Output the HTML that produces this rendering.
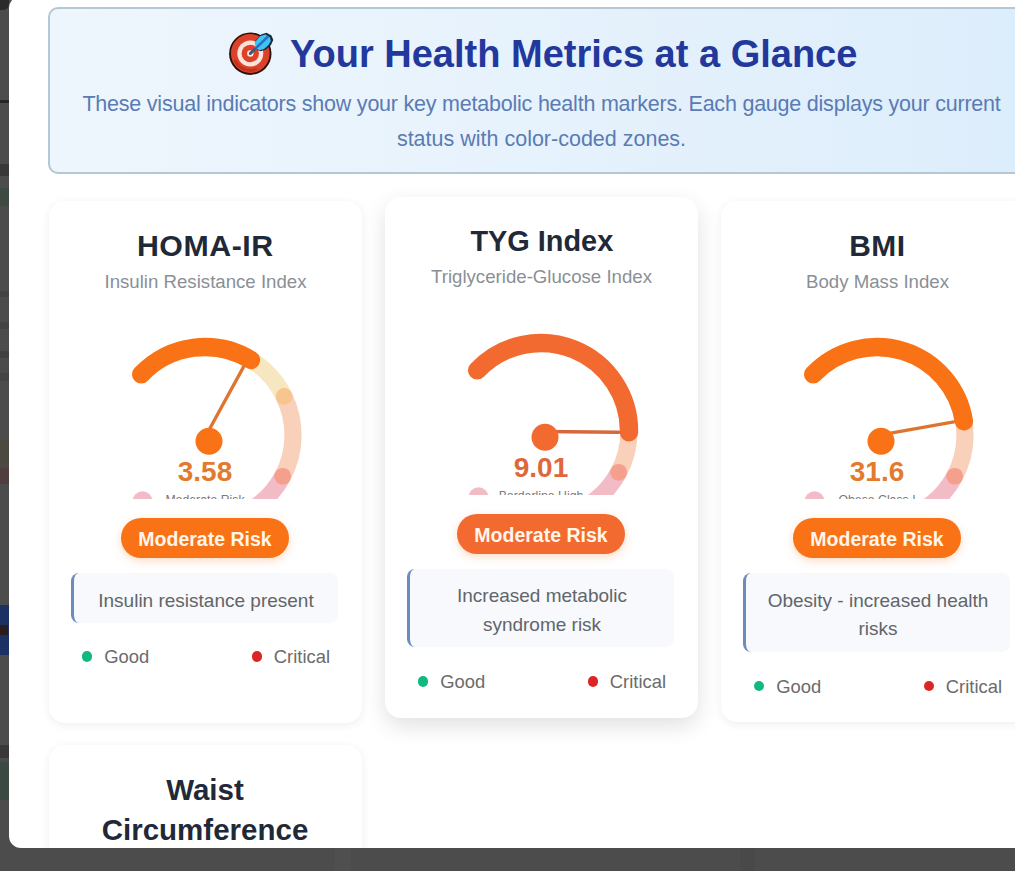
<!DOCTYPE html>
<html><head><meta charset="utf-8"><title>Health Metrics</title><style>
*{margin:0;padding:0;box-sizing:border-box}
html,body{width:1015px;height:871px;overflow:hidden}
body{background:#4c4c4c;font-family:"Liberation Sans",sans-serif;position:relative}
.modal{position:absolute;left:8.5px;top:-4px;width:1100px;height:852px;background:#fff;border-radius:12px}
.clip{position:absolute;left:0;top:0;width:1015px;height:848px;overflow:hidden}
.t{position:absolute;white-space:nowrap;line-height:1}
.hdr{position:absolute;left:47.5px;top:6.5px;width:988px;height:167px;border:2px solid #b3c8d4;border-radius:10px;background:linear-gradient(90deg,#eef6fd 0%,#e6f2fc 50%,#dcedfb 100%)}
.card{position:absolute;background:#fff;border-radius:16px;box-shadow:0 2px 10px rgba(0,0,0,0.07)}
.card.hov{box-shadow:0 8px 22px rgba(0,0,0,0.12)}
.g{position:absolute;overflow:hidden}
.badge{position:absolute;border-radius:20px;height:40px;width:168.5px;box-shadow:0 3px 8px rgba(249,115,22,0.25)}
.desc{position:absolute;background:#f7f9fc;border-left:3px solid #6d8cbe;border-radius:8px}
.dot{position:absolute;width:10.5px;height:10.5px;border-radius:50%}
.strip{position:absolute}
</style></head><body>

<div class="strip" style="left:0;top:605px;width:8.5px;height:50px;background:#1c3162"></div>
<div class="strip" style="left:0;top:0;width:9px;height:10px;background:#2a2a2a;border-radius:0 0 6px 0"></div>
<div class="strip" style="left:0;top:100px;width:8.5px;height:2.5px;background:#262626"></div>
<div class="strip" style="left:0;top:164px;width:8.5px;height:12px;background:#383838"></div>
<div class="strip" style="left:0;top:188px;width:8.5px;height:18px;background:#3c4a42"></div>
<div class="strip" style="left:0;top:291px;width:8.5px;height:6px;background:#434343"></div>
<div class="strip" style="left:0;top:322px;width:8.5px;height:7px;background:#434343"></div>
<div class="strip" style="left:0;top:351px;width:8.5px;height:7px;background:#414141"></div>
<div class="strip" style="left:0;top:373px;width:8.5px;height:8px;background:#444444"></div>
<div class="strip" style="left:0;top:440px;width:8.5px;height:28px;background:#4c4a40"></div>
<div class="strip" style="left:0;top:468px;width:8.5px;height:16px;background:#503e3e"></div>
<div class="strip" style="left:0;top:745px;width:8.5px;height:13px;background:#383838"></div>
<div class="strip" style="left:0;top:762px;width:8.5px;height:38px;background:#3c4842"></div>
<div class="strip" style="left:0;top:625px;width:8px;height:10px;background:#2a1c1c"></div>
<div class="strip" style="left:335px;top:848px;width:16px;height:23px;background:#4f4f4f"></div>
<div class="strip" style="left:740px;top:848px;width:15px;height:23px;background:#494949"></div>
<div class="modal"></div>
<div class="clip">
<div class="hdr"></div>
<div class="t" style="left:290.00px;top:34.63px;font-size:38px;font-weight:700;color:#22389c;">Your Health Metrics at a Glance</div>
<svg class="g" style="left:227px;top:30px" width="48" height="48" viewBox="0 0 48 48">
<circle cx="23.3" cy="23.7" r="21.2" fill="#2a100c"/>
<circle cx="23.3" cy="23.5" r="19.4" fill="#dc4229"/>
<path d="M8 30 A16.5 16.5 0 0 0 30 39" stroke="#c2341f" stroke-width="3" fill="none"/>
<circle cx="23.3" cy="23.5" r="13" fill="#fde3da"/>
<circle cx="23.3" cy="23.5" r="8.7" fill="#dc4229"/>
<circle cx="23.3" cy="23.5" r="3.2" fill="#fde3da"/>
<path d="M28.5 10.5 L34 4.5 L39.5 2.8 L44.5 5.5 L46.3 10 L44 15 L39 19.5 L33.5 21.3 L29.5 19.5 Z" fill="#1c2a3e"/>
<path d="M27.6 12.5 L33 6.2 L38.3 4.6 L42.8 7.3 L43.8 11 L41.5 15 L37 19 L32.5 20.3 L28.8 18.6 Z" fill="#3ec4f3"/>
<path d="M23.3 23.5 L40.5 7" stroke="#2a72c6" stroke-width="2.6" stroke-linecap="round"/>
<path d="M23.3 23.5 L27.5 19.4" stroke="#3a5878" stroke-width="2.6" stroke-linecap="round"/>
</svg>
<div class="t" style="left:-58.50px;top:93.50px;width:1200px;text-align:center;font-size:21.5px;font-weight:400;color:#5a7bb4;letter-spacing:-0.22px">These visual indicators show your key metabolic health markers. Each gauge displays your current</div>
<div class="t" style="left:-58.50px;top:128.70px;width:1200px;text-align:center;font-size:21.5px;font-weight:400;color:#5a7bb4;letter-spacing:0.0px">status with color-coded zones.</div>
<div class="card" style="left:48.5px;top:201px;width:313px;height:522px"></div>
<div class="card hov" style="left:384.5px;top:196.5px;width:313px;height:521.8px"></div>
<div class="card" style="left:720.5px;top:201px;width:313px;height:521px"></div>
<div class="t" style="left:-394.70px;top:230.65px;width:1200px;text-align:center;font-size:30.3px;font-weight:700;color:#1f2937;letter-spacing:0.55px">HOMA-IR</div>
<div class="t" style="left:-394.50px;top:272.81px;width:1200px;text-align:center;font-size:18.65px;font-weight:400;color:#8a8f96;">Insulin Resistance Index</div>
<svg class="g" style="left:75.0px;top:315.2px" width="260" height="184.30" viewBox="0 0 260 184.30"><path d="M160.10 37.31A88 88 0 0 1 209.09 81.42" stroke="#f7e7c1" stroke-width="17.2" fill="none" stroke-linecap="butt"/><path d="M209.09 81.42A88 88 0 0 1 207.70 161.31" stroke="#f9d0b9" stroke-width="17.2" fill="none" stroke-linecap="butt"/><path d="M207.70 161.31A88 88 0 0 1 79.53 192.09" stroke="#f1bcc6" stroke-width="17.2" fill="none" stroke-linecap="butt"/><circle cx="209.09" cy="81.42" r="8.4" fill="#f6c590"/><circle cx="207.70" cy="161.31" r="8.4" fill="#f4a08c"/><circle cx="67.50" cy="186.30" r="10" fill="#f1bcc6"/><path d="M66.17 59.42A88 88 0 0 1 175.98 44.97" stroke="#f97316" stroke-width="18.4" fill="none" stroke-linecap="round"/><line x1="131.00" y1="120.50" x2="168.41" y2="52.11" stroke="#dd7530" stroke-width="3.3" stroke-linecap="round"/><circle cx="134.00" cy="126.20" r="13.5" fill="#f97316"/><text x="130.00" y="166.00" text-anchor="middle" font-size="28" font-weight="700" fill="#e37a2c" font-family="Liberation Sans">3.58</text><text x="130.00" y="189.00" text-anchor="middle" font-size="12.3" fill="#7a7a7a" font-family="Liberation Sans">Moderate Risk</text></svg>
<div class="badge" style="left:120.75px;top:518.30px;background:#f97316"></div>
<div class="t" style="left:-395.00px;top:530.29px;width:1200px;text-align:center;font-size:19.5px;font-weight:700;color:#fff6ea;">Moderate Risk</div>
<div class="desc" style="left:71.20px;top:573.20px;width:267px;height:50px"></div>
<div class="t" style="left:-394.00px;top:590.52px;width:1200px;text-align:center;font-size:19.0px;font-weight:400;color:#626569;">Insulin resistance present</div>
<div class="dot" style="left:81.50px;top:651.25px;background:#10b981"></div>
<div class="t" style="left:104.30px;top:648.22px;font-size:18.4px;font-weight:400;color:#6b6b6b;">Good</div>
<div class="dot" style="left:251.50px;top:651.25px;background:#dc2626"></div>
<div class="t" style="left:273.80px;top:648.22px;font-size:18.4px;font-weight:400;color:#6b6b6b;">Critical</div>
<div class="t" style="left:-58.20px;top:227.34px;width:1200px;text-align:center;font-size:28.9px;font-weight:700;color:#1f2937;letter-spacing:0px">TYG Index</div>
<div class="t" style="left:-58.50px;top:268.31px;width:1200px;text-align:center;font-size:18.65px;font-weight:400;color:#8a8f96;">Triglyceride-Glucose Index</div>
<svg class="g" style="left:411.0px;top:310.7px" width="260" height="184.30" viewBox="0 0 260 184.30"><path d="M160.10 37.31A88 88 0 0 1 209.09 81.42" stroke="#f7e7c1" stroke-width="17.2" fill="none" stroke-linecap="butt"/><path d="M209.09 81.42A88 88 0 0 1 207.70 161.31" stroke="#f9d0b9" stroke-width="17.2" fill="none" stroke-linecap="butt"/><path d="M207.70 161.31A88 88 0 0 1 79.53 192.09" stroke="#f1bcc6" stroke-width="17.2" fill="none" stroke-linecap="butt"/><circle cx="209.09" cy="81.42" r="8.4" fill="#f6c590"/><circle cx="207.70" cy="161.31" r="8.4" fill="#f4a08c"/><circle cx="67.50" cy="186.30" r="10" fill="#f1bcc6"/><path d="M66.17 59.42A88 88 0 0 1 217.99 121.23" stroke="#f26a30" stroke-width="18.4" fill="none" stroke-linecap="round"/><line x1="131.00" y1="120.50" x2="207.99" y2="121.23" stroke="#d8683a" stroke-width="3.3" stroke-linecap="round"/><circle cx="134.00" cy="126.20" r="13.5" fill="#f26a30"/><text x="130.00" y="166.00" text-anchor="middle" font-size="28" font-weight="700" fill="#e0673a" font-family="Liberation Sans">9.01</text><text x="130.00" y="189.00" text-anchor="middle" font-size="12.3" fill="#7a7a7a" font-family="Liberation Sans">Borderline High</text></svg>
<div class="badge" style="left:456.75px;top:513.80px;background:#f26a30"></div>
<div class="t" style="left:-59.00px;top:525.79px;width:1200px;text-align:center;font-size:19.5px;font-weight:700;color:#fff6ea;">Moderate Risk</div>
<div class="desc" style="left:407.20px;top:568.70px;width:267px;height:78.5px"></div>
<div class="t" style="left:-58.00px;top:586.02px;width:1200px;text-align:center;font-size:19.0px;font-weight:400;color:#626569;">Increased metabolic</div>
<div class="t" style="left:-58.00px;top:614.82px;width:1200px;text-align:center;font-size:19.0px;font-weight:400;color:#626569;">syndrome risk</div>
<div class="dot" style="left:417.50px;top:676.25px;background:#10b981"></div>
<div class="t" style="left:440.30px;top:673.22px;font-size:18.4px;font-weight:400;color:#6b6b6b;">Good</div>
<div class="dot" style="left:587.50px;top:676.25px;background:#dc2626"></div>
<div class="t" style="left:609.80px;top:673.22px;font-size:18.4px;font-weight:400;color:#6b6b6b;">Critical</div>
<div class="t" style="left:277.30px;top:230.99px;width:1200px;text-align:center;font-size:29.9px;font-weight:700;color:#1f2937;letter-spacing:0.5px">BMI</div>
<div class="t" style="left:277.50px;top:272.81px;width:1200px;text-align:center;font-size:18.65px;font-weight:400;color:#8a8f96;">Body Mass Index</div>
<svg class="g" style="left:747.0px;top:315.2px" width="260" height="184.30" viewBox="0 0 260 184.30"><path d="M160.10 37.31A88 88 0 0 1 209.09 81.42" stroke="#f7e7c1" stroke-width="17.2" fill="none" stroke-linecap="butt"/><path d="M209.09 81.42A88 88 0 0 1 207.70 161.31" stroke="#f9d0b9" stroke-width="17.2" fill="none" stroke-linecap="butt"/><path d="M207.70 161.31A88 88 0 0 1 79.53 192.09" stroke="#f1bcc6" stroke-width="17.2" fill="none" stroke-linecap="butt"/><circle cx="209.09" cy="81.42" r="8.4" fill="#f6c590"/><circle cx="207.70" cy="161.31" r="8.4" fill="#f4a08c"/><circle cx="67.50" cy="186.30" r="10" fill="#f1bcc6"/><path d="M66.17 59.42A88 88 0 0 1 216.94 106.39" stroke="#f97316" stroke-width="18.4" fill="none" stroke-linecap="round"/><line x1="131.00" y1="120.50" x2="206.91" y2="106.99" stroke="#dd7530" stroke-width="3.3" stroke-linecap="round"/><circle cx="134.00" cy="126.20" r="13.5" fill="#f97316"/><text x="130.00" y="166.00" text-anchor="middle" font-size="28" font-weight="700" fill="#e37a2c" font-family="Liberation Sans">31.6</text><text x="130.00" y="189.00" text-anchor="middle" font-size="12.3" fill="#7a7a7a" font-family="Liberation Sans">Obese Class I</text></svg>
<div class="badge" style="left:792.75px;top:518.30px;background:#f97316"></div>
<div class="t" style="left:277.00px;top:530.29px;width:1200px;text-align:center;font-size:19.5px;font-weight:700;color:#fff6ea;">Moderate Risk</div>
<div class="desc" style="left:743.20px;top:573.20px;width:267px;height:78.5px"></div>
<div class="t" style="left:278.00px;top:590.52px;width:1200px;text-align:center;font-size:19.0px;font-weight:400;color:#626569;">Obesity - increased health</div>
<div class="t" style="left:278.00px;top:619.32px;width:1200px;text-align:center;font-size:19.0px;font-weight:400;color:#626569;">risks</div>
<div class="dot" style="left:753.50px;top:680.75px;background:#10b981"></div>
<div class="t" style="left:776.30px;top:677.72px;font-size:18.4px;font-weight:400;color:#6b6b6b;">Good</div>
<div class="dot" style="left:923.50px;top:680.75px;background:#dc2626"></div>
<div class="t" style="left:945.80px;top:677.72px;font-size:18.4px;font-weight:400;color:#6b6b6b;">Critical</div>
<div class="card" style="left:48.5px;top:745px;width:313px;height:300px"></div>
<div class="t" style="left:-395.00px;top:774.73px;width:1200px;text-align:center;font-size:29.5px;font-weight:700;color:#1f2937;">Waist</div>
<div class="t" style="left:-395.00px;top:814.83px;width:1200px;text-align:center;font-size:29.5px;font-weight:700;color:#1f2937;">Circumference</div>
</div>
</body></html>
